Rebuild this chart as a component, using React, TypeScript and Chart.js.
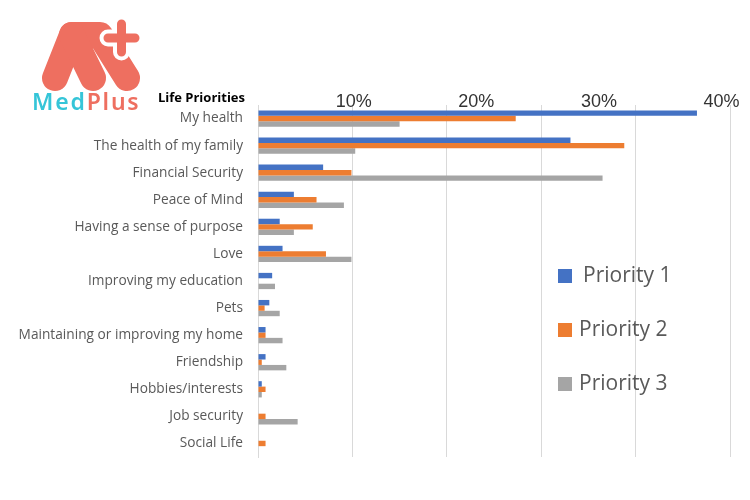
import React, { useEffect, useRef } from "react";
import { Chart, registerables } from "chart.js";

Chart.register(...registerables);

const categories = [
  "My health",
  "The health of my family",
  "Financial Security",
  "Peace of Mind",
  "Having a sense of purpose",
  "Love",
  "Improving my education",
  "Pets",
  "Maintaining or improving my home",
  "Friendship",
  "Hobbies/interests",
  "Job security",
  "Social Life",
];

const priority1 = [46.5, 33.1, 6.9, 3.8, 2.3, 2.6, 1.5, 1.2, 0.8, 0.8, 0.4, 0, 0];
const priority2 = [27.3, 38.8, 9.9, 6.2, 5.8, 7.2, 0, 0.7, 0.8, 0.4, 0.8, 0.8, 0.8];
const priority3 = [15.0, 10.3, 36.5, 9.1, 3.8, 9.9, 1.8, 2.3, 2.6, 3.0, 0.4, 4.2, 0];

const seriesNames = ["Priority 1", "Priority 2", "Priority 3"];
const seriesColors = ["#4472C4", "#ED7D31", "#A5A5A5"];

const topTickValues = [10, 20, 30, 40];
const axisTitle = "Life Priorities";

const overlayPlugin = {
  id: "overlayText",
  afterDatasetsDraw(chart: any) {
    const { ctx, chartArea } = chart;
    ctx.save();
    // axis heading
    ctx.font = "bold 13px 'Open Sans'";
    ctx.fillStyle = "#000000";
    ctx.textAlign = "right";
    ctx.textBaseline = "middle";
    ctx.fillText(axisTitle, chartArea.left - 13, chartArea.top - 7);
    // legend inside the plot
    chart.data.datasets.forEach((ds: any, i: number) => {
      const x = chartArea.left + 300;
      const y = chartArea.top + 171 + i * 54;
      ctx.fillStyle = ds.backgroundColor;
      ctx.fillRect(x, y - 7, 14, 14);
      ctx.fillStyle = "#595959";
      ctx.font = "21px 'Open Sans'";
      ctx.textAlign = "left";
      ctx.textBaseline = "middle";
      ctx.fillText(ds.label, x + (i === 0 ? 25 : 21), y);
    });
    ctx.restore();
  },
};

function Logo() {
  const salmon = "#EE6F60";
  return (
    <svg
      width="160"
      height="120"
      style={{ position: "absolute", left: 0, top: 0, pointerEvents: "none" }}
    >
      <g fill="none" stroke={salmon} strokeWidth={26} strokeLinecap="round" strokeLinejoin="round">
        <path d="M55 78 L72 35 L100 35 L127 78" />
        <path d="M72 35 L93 78" />
      </g>
      <g fill="none" strokeLinecap="round">
        <path d="M108 38 L135 38 M121.5 24 L121.5 52" stroke="#ffffff" strokeWidth={17} />
        <path d="M108 38 L135 38 M121.5 24 L121.5 52" stroke={salmon} strokeWidth={9} />
      </g>
      <text
        x="32"
        y="110"
        fontFamily="'Noto Sans', sans-serif"
        fontSize="23"
        fontWeight="600"
        letterSpacing="1.8"
      >
        <tspan fill="#35C5D8">Med</tspan>
        <tspan fill={salmon}>Plus</tspan>
      </text>
    </svg>
  );
}

export default function App() {
  const canvasRef = useRef<HTMLCanvasElement | null>(null);

  useEffect(() => {
    if (!canvasRef.current) return;
    const chart = new Chart(canvasRef.current, {
      type: "bar",
      data: {
        labels: categories,
        datasets: [priority1, priority2, priority3].map((d, i) => ({
          label: seriesNames[i],
          data: d,
          backgroundColor: seriesColors[i],
          borderWidth: 0,
          xAxisID: "x",
          barPercentage: 1,
          categoryPercentage: 0.6,
        })),
      },
      options: {
        indexAxis: "y",
        animation: false,
        responsive: true,
        maintainAspectRatio: false,
        layout: { padding: { left: 0, right: 20, top: 0, bottom: 43 } },
        plugins: {
          legend: { display: false },
          tooltip: { enabled: false },
          title: { display: false },
        },
        scales: {
          x: {
            type: "linear",
            position: "bottom",
            min: 0,
            max: 50,
            ticks: { display: false, stepSize: 10 },
            grid: { color: "#D9D9D9", drawTicks: false },
            border: { display: false },
            afterFit(scale: any) {
              scale.height = 0;
            },
          },
          x2: {
            type: "linear",
            position: "top",
            min: 2.19,
            max: 40.69,
            afterBuildTicks(scale: any) {
              scale.ticks = topTickValues.map((v) => ({ value: v }));
            },
            ticks: {
              callback: (v: any) => v + "%",
              font: { family: "'Liberation Sans', Arial", size: 18 },
              color: "#333333",
              mirror: true,
              padding: -14,
              maxRotation: 0,
              autoSkip: false,
            },
            grid: { display: false, drawTicks: false },
            border: { display: false },
            afterFit(scale: any) {
              scale.height = 105;
            },
          },
          y: {
            type: "category",
            grid: { display: false, drawTicks: false },
            border: { display: true, color: "#D9D9D9" },
            ticks: {
              font: { family: "'Open Sans'", size: 13.7 },
              color: "#595959",
              padding: 15,
              autoSkip: false,
            },
            afterFit(scale: any) {
              scale.width = 258;
            },
          },
        },
      } as any,
      plugins: [overlayPlugin],
    });
    return () => chart.destroy();
  }, []);

  return (
    <div style={{ position: "fixed", left: 0, top: 0, width: 750, height: 500, background: "#ffffff" }}>
      <canvas ref={canvasRef} />
      <Logo />
    </div>
  );
}
